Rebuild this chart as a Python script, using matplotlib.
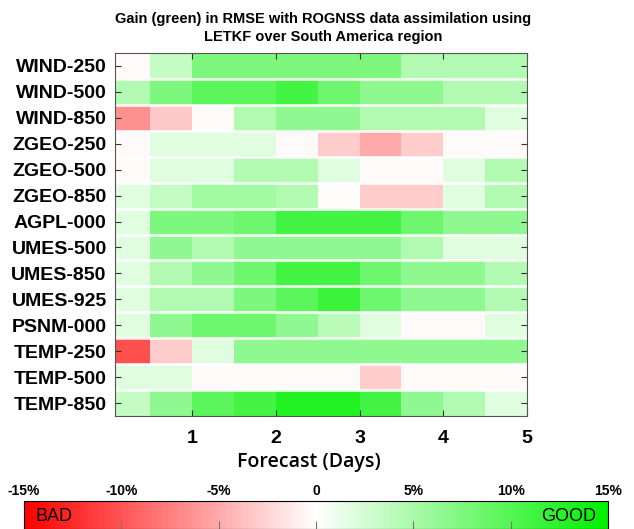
import numpy as np
import matplotlib
matplotlib.use('Agg')
import matplotlib.pyplot as plt
from matplotlib.colors import LinearSegmentedColormap, Normalize
from matplotlib.colorbar import ColorbarBase

plt.rcParams['font.family'] = ['Liberation Sans', 'DejaVu Sans']

variables = ['WIND-250', 'WIND-500', 'WIND-850', 'ZGEO-250', 'ZGEO-500', 'ZGEO-850',
             'AGPL-000', 'UMES-500', 'UMES-850', 'UMES-925', 'PSNM-000',
             'TEMP-250', 'TEMP-500', 'TEMP-850']
# forecast steps, 12 h each (cell right edges in days)
days = [0.5, 1.0, 1.5, 2.0, 2.5, 3.0, 3.5, 4.0, 4.5, 5.0]

# gain in RMSE (%) per variable and forecast step
wind_250 = [-0.3, 3.5, 7.5, 7.5, 7.5, 7.5, 7.5, 4.5, 4.5, 4.5]
wind_500 = [4.5, 7.5, 9.5, 9.5, 11.0, 8.5, 6.5, 6.5, 4.5, 4.5]
wind_850 = [-6.5, -3.2, -0.3, 4.5, 6.5, 6.5, 4.5, 4.5, 4.5, 1.8]
zgeo_250 = [-0.3, 1.8, 1.8, 1.8, -0.3, -3.0, -5.0, -3.0, -0.3, -0.3]
zgeo_500 = [-0.3, 1.8, 1.8, 4.5, 4.5, 1.8, -0.3, -0.3, 1.8, 4.5]
zgeo_850 = [1.8, 3.5, 5.5, 5.5, 4.5, -0.2, -3.0, -3.0, 1.8, 4.5]
agpl_000 = [1.8, 7.5, 7.5, 8.5, 11.0, 11.0, 11.0, 8.5, 6.5, 6.5]
umes_500 = [1.8, 6.5, 4.5, 6.5, 6.5, 6.5, 6.5, 4.5, 1.8, 1.8]
umes_850 = [1.8, 4.5, 6.5, 8.5, 11.0, 11.0, 8.5, 6.5, 6.5, 4.5]
umes_925 = [1.8, 4.5, 4.5, 7.5, 9.5, 11.5, 8.5, 6.5, 6.5, 4.5]
psnm_000 = [1.8, 6.5, 8.5, 8.5, 6.5, 4.0, 1.8, -0.3, -0.3, 1.8]
temp_250 = [-10.3, -3.0, 1.8, 6.5, 6.5, 6.5, 6.5, 6.5, 6.5, 6.5]
temp_500 = [1.8, 1.8, -0.3, -0.3, -0.3, -0.3, -3.0, -0.3, -0.3, -0.3]
temp_850 = [3.5, 6.5, 9.5, 11.0, 13.0, 13.0, 11.0, 6.5, 4.5, 1.8]

gain = np.array([wind_250, wind_500, wind_850, zgeo_250, zgeo_500, zgeo_850,
                 agpl_000, umes_500, umes_850, umes_925, psnm_000,
                 temp_250, temp_500, temp_850])

cmap = LinearSegmentedColormap.from_list('badgood', ['#ff0000', '#ffffff', '#00f000'])
norm = Normalize(-15, 15)

fig = plt.figure(figsize=(6.34, 5.29), dpi=100)
ax = fig.add_axes([115/634, 1-416/529, 412/634, 363/529])

xedges = np.concatenate([[days[0] - 0.5], days])
yedges = np.arange(len(variables) + 1)
ax.pcolormesh(xedges, yedges, gain, cmap=cmap, norm=norm)
for i in range(1, len(variables)):
    ax.axhline(i, color='white', lw=2, alpha=0.85)
ax.set_xlim(0.08, 5)
ax.set_ylim(len(variables), 0)

ax.set_yticks(np.arange(len(variables)) + 0.5)
ax.set_yticklabels(variables, fontsize=14, fontweight='bold')
ax.set_xticks([1, 2, 3, 4, 5])
ax.set_xticklabels(['1', '2', '3', '4', '5'], fontsize=14, fontweight='bold')
ax.tick_params(direction='in', top=True, right=True, length=4, color='#333333')
ax.tick_params(axis='x', pad=10)
ax.tick_params(axis='y', pad=6)
for s in ax.spines.values():
    s.set_color('#555555')
ax.set_xlabel('Forecast (Days)', fontsize=14, fontweight='semibold',
              family=['Open Sans', 'DejaVu Sans'])
ax.xaxis.set_label_coords(0.47, -0.10)

fig.text(323/634, 1-28/529,
         'Gain (green) in RMSE with ROGNSS data assimilation using\nLETKF over South America region',
         ha='center', va='center', fontsize=10.5, fontweight='bold', linespacing=1.45)

cax = fig.add_axes([24/634, 0, 584/634, 28/529])
cb = ColorbarBase(cax, cmap=cmap, norm=norm, orientation='horizontal')
cb.set_ticks([-15, -10, -5, 0, 5, 10, 15])
cb.set_ticklabels(['-15%', '-10%', '-5%', '0', '5%', '10%', '15%'])
cax.tick_params(axis='x', top=False, labeltop=True, bottom=True, labelbottom=False,
                direction='in', length=6, color='#777777', labelsize=10, pad=2)
for lab in cax.get_xticklabels():
    lab.set_fontweight('bold')
cb.outline.set_linewidth(0.8)
cax.text(0.02, 0.45, 'BAD', transform=cax.transAxes, fontsize=13, va='center', ha='left')
cax.text(0.98, 0.45, 'GOOD', transform=cax.transAxes, fontsize=13, va='center', ha='right')

fig.savefig('out.png', dpi=100)
